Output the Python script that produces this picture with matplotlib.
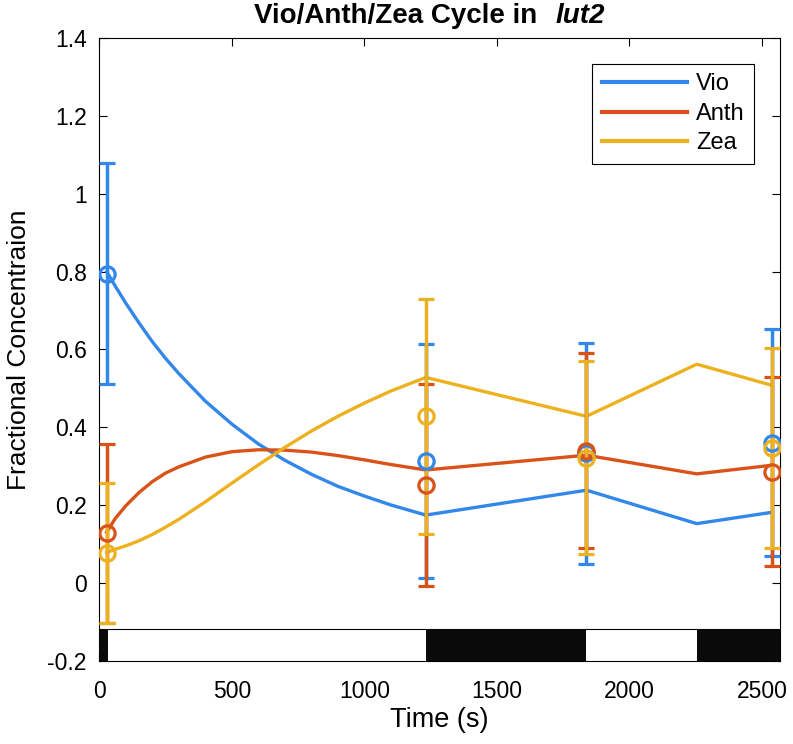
import matplotlib
matplotlib.use("Agg")
import matplotlib.pyplot as plt
import matplotlib.patches as patches

plt.rcParams["font.family"] = ["Liberation Sans", "DejaVu Sans"]

# measured points (mean +/- sd)
t_obs = [28, 1232, 1838, 2536]
vio_mean = [0.795, 0.313, 0.333, 0.360]
vio_sd = [0.285, 0.300, 0.284, 0.292]
anth_mean = [0.127, 0.252, 0.340, 0.286]
anth_sd = [0.230, 0.260, 0.250, 0.243]
zea_mean = [0.077, 0.428, 0.322, 0.346]
zea_sd = [0.180, 0.302, 0.248, 0.257]

# model curves
t_fit = [28, 60, 100, 150, 200, 250, 300, 400, 500, 600, 700, 800, 900, 1000, 1100, 1232, 1838, 2254, 2536]
vio_fit = [0.800, 0.763, 0.719, 0.668, 0.620, 0.577, 0.538, 0.467, 0.408, 0.357, 0.315, 0.279, 0.248,
           0.223, 0.200, 0.174, 0.238, 0.152, 0.181]
anth_fit = [0.130, 0.165, 0.198, 0.232, 0.260, 0.282, 0.298, 0.323, 0.337, 0.342, 0.341, 0.336, 0.327,
            0.316, 0.304, 0.290, 0.328, 0.280, 0.302]
zea_fit = [0.078, 0.086, 0.095, 0.108, 0.124, 0.143, 0.163, 0.208, 0.256, 0.303, 0.348, 0.390, 0.428,
           0.462, 0.493, 0.528, 0.428, 0.562, 0.508]

# light / dark periods
dark_periods = [(0, 32), (1232, 1838), (2254, 2568)]

names = ["Vio", "Anth", "Zea"]
colors = ["#3187ea", "#d95319", "#edb120"]

fig = plt.figure(figsize=(7.93, 7.44), dpi=100)
ax = fig.add_axes([0.1252, 0.1122, 0.8584, 0.8363])

for fit, c, n in zip([vio_fit, anth_fit, zea_fit], colors, names):
    ax.plot(t_fit, fit, color=c, lw=2.4, label=n, zorder=3)

for m, s, c in zip([vio_mean, anth_mean, zea_mean], [vio_sd, anth_sd, zea_sd], colors):
    ax.errorbar(t_obs, m, yerr=s, fmt='o', color=c, mfc='none', mec=c, ms=11, mew=2.3,
                elinewidth=2.5, capsize=5.5, capthick=2.5, zorder=4)

ax.set_xlim(0, 2568)
ax.set_ylim(-0.2, 1.4)

bar_top = -0.118
ax.add_patch(patches.Rectangle((0, -0.2), 2568, bar_top + 0.2, facecolor='white',
                               edgecolor='black', lw=0.8, zorder=5))
for a, b in dark_periods:
    ax.add_patch(patches.Rectangle((a, -0.2), b - a, bar_top + 0.2, facecolor='#0a0a0a',
                                   edgecolor='none', zorder=6))

ax.set_xticks([0, 500, 1000, 1500, 2000, 2500])
ax.set_yticks([-0.2, 0, 0.2, 0.4, 0.6, 0.8, 1.0, 1.2, 1.4])
ax.set_yticklabels(["-0.2", "0", "0.2", "0.4", "0.6", "0.8", "1", "1.2", "1.4"])
ax.tick_params(direction='in', length=6, width=0.8, top=True, right=True, labelsize=16.5)
ax.tick_params(axis='x', pad=14)
ax.tick_params(axis='y', pad=9)
for sp in ax.spines.values():
    sp.set_linewidth(0.8)

ax.set_xlabel("Time (s)", fontsize=19.5, labelpad=3)
ax.set_ylabel("Fractional Concentraion", fontsize=19, labelpad=12)

leg = ax.legend(loc='upper right', bbox_to_anchor=(0.962, 0.959), borderaxespad=0,
                fontsize=17, fancybox=False, edgecolor='black', framealpha=1,
                handlelength=3.6, handletextpad=0.4, borderpad=0.4, labelspacing=0.32)
leg.get_frame().set_linewidth(0.8)
for h in leg.get_lines():
    h.set_linewidth(3)

fig.text(0.677, 0.979, "Vio/Anth/Zea Cycle in", ha='right', va='center', fontsize=20, weight='bold')
fig.text(0.700, 0.979, "lut2", ha='left', va='center', fontsize=20, weight='bold', style='italic')

fig.savefig("out.png", dpi=100)
